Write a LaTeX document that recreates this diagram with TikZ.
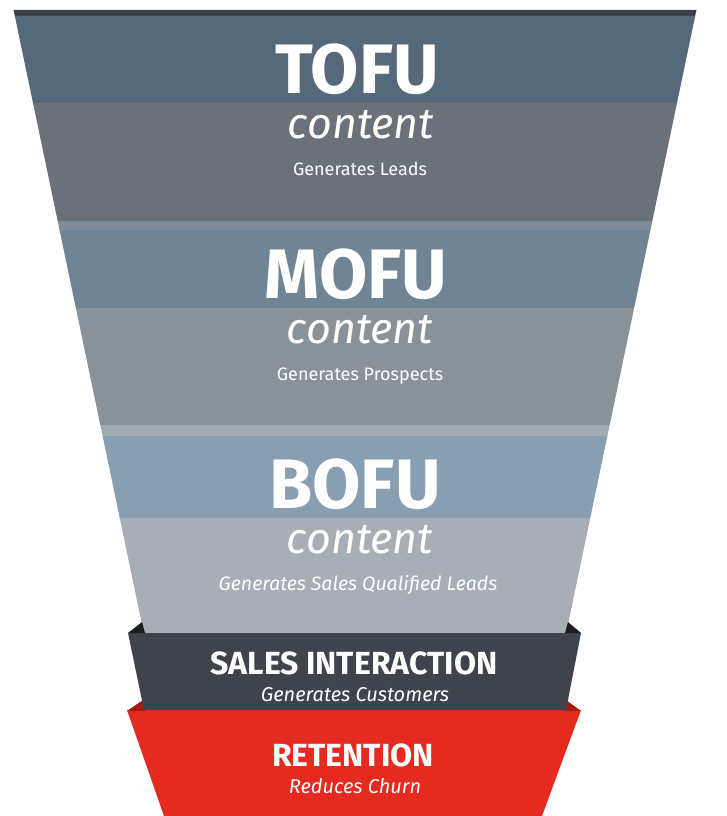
\documentclass[tikz,border=0pt]{standalone}
\usepackage{fontspec}
\setmainfont{Fira Sans}
\usepackage{tikz}
\usetikzlibrary{calc}
\usepackage{xcolor}
\definecolor{RimDark}{HTML}{3B4048}
\definecolor{TofuTop}{HTML}{56697A}
\definecolor{TofuLow}{HTML}{6A7179}
\definecolor{MofuStrip}{HTML}{7E8C97}
\definecolor{MofuTop}{HTML}{6F8595}
\definecolor{MofuLow}{HTML}{8A9299}
\definecolor{BofuStrip}{HTML}{A2AAB1}
\definecolor{BofuTop}{HTML}{879FB1}
\definecolor{BofuLow}{HTML}{A8AEB5}
\definecolor{SalesGrey}{HTML}{3F444C}
\definecolor{SalesCorner}{HTML}{1C1E22}
\definecolor{ChurnRed}{HTML}{E52A20}
\definecolor{ChurnCorner}{HTML}{A51A12}
\tikzset{%
  stage/.style={%
    text=white,
    anchor=base,
    inner sep=0pt%
  },
  fuword/.style={%
    stage,
    text depth=0pt,
    font={\fontsize{70}{70}\selectfont\bfseries},
  },
  contentword/.style={%
    stage,
    text height=29pt,
    text depth=0pt,
    font={\fontsize{43}{43}\selectfont\itshape},
  },
  funote/.style={%
    stage,
    font={\fontsize{18}{18}\selectfont},
  },
  stageword/.style={%
    stage,
    text depth=0pt,
    font={\fontsize{32}{32}\selectfont\bfseries},
  },
  stagenote/.style={%
    stage,
    font={\fontsize{20}{20}\selectfont\itshape},
  }
}
% one horizontal slice of the funnel body
\newcommand{\funnelband}[3]{%
  \fill [#3]
    ({14+0.209*(#1-12)}, #1) -- ({696-0.209*(#1-12)}, #1)
    -- ({696-0.209*(#2-12)}, #2) -- ({14+0.209*(#2-12)}, #2) -- cycle;}

\begin{document}
\begin{tikzpicture}[x=1pt, y=-1pt]
  \fill [white] (0, 0) rectangle (726, 816);
  \useasboundingbox (0, 0) rectangle (726, 816);

  % funnel body
  \funnelband{10}{16}{RimDark}
  \funnelband{16}{103}{TofuTop}
  \funnelband{103}{221}{TofuLow}
  \funnelband{221}{230}{MofuStrip}
  \funnelband{230}{308}{MofuTop}
  \funnelband{308}{425}{MofuLow}
  \funnelband{425}{436}{BofuStrip}
  \funnelband{436}{518}{BofuTop}
  \funnelband{518}{633}{BofuLow}

  % retention
  \fill [ChurnRed] (127, 710) -- (581, 710) -- (542, 816) -- (164, 816) -- cycle;
  \fill [ChurnCorner] (127, 711) -- (143, 700) -- (145, 711) -- cycle;
  \fill [ChurnCorner] (581, 711) -- (566, 700) -- (564, 711) -- cycle;

  % sales interaction
  \fill [SalesGrey] (128, 633) -- (581, 633) -- (566, 710) -- (144, 710) -- cycle;
  \fill [SalesCorner] (128, 633) -- (142, 622) -- (145, 633) -- cycle;
  \fill [SalesCorner] (581, 633) -- (568, 622) -- (565, 633) -- cycle;

  \node [fuword] (Tofu) at (357, 93) {TOFU};
  \node [contentword] (TofuContent) at (361, 138) {content};
  \node [funote] (TofuNote) at (360, 175) {Generates Leads};

  \node [fuword] (Mofu) at (356, 298) {MOFU};
  \node [contentword] (MofuContent) at (360, 343) {content};
  \node [funote] (MofuNote) at (360, 380) {Generates Prospects};

  \node [fuword] (Bofu) at (355, 508) {BOFU};
  \node [contentword] (BofuContent) at (360, 553) {content};
  \node [funote, font={\fontsize{19.5}{19.5}\selectfont\itshape}] (BofuNote)
    at (358, 590) {Generates Sales Qualified Leads};

  \node [stageword] (Sales) at (354, 674) {SALES INTERACTION};
  \node [stagenote] (SalesNote) at (355, 701) {Generates Customers};

  \node [stageword] (Retention) at (353, 766) {RETENTION};
  \node [stagenote] (RetentionNote) at (355, 793) {Reduces Churn};
\end{tikzpicture}
\end{document}
